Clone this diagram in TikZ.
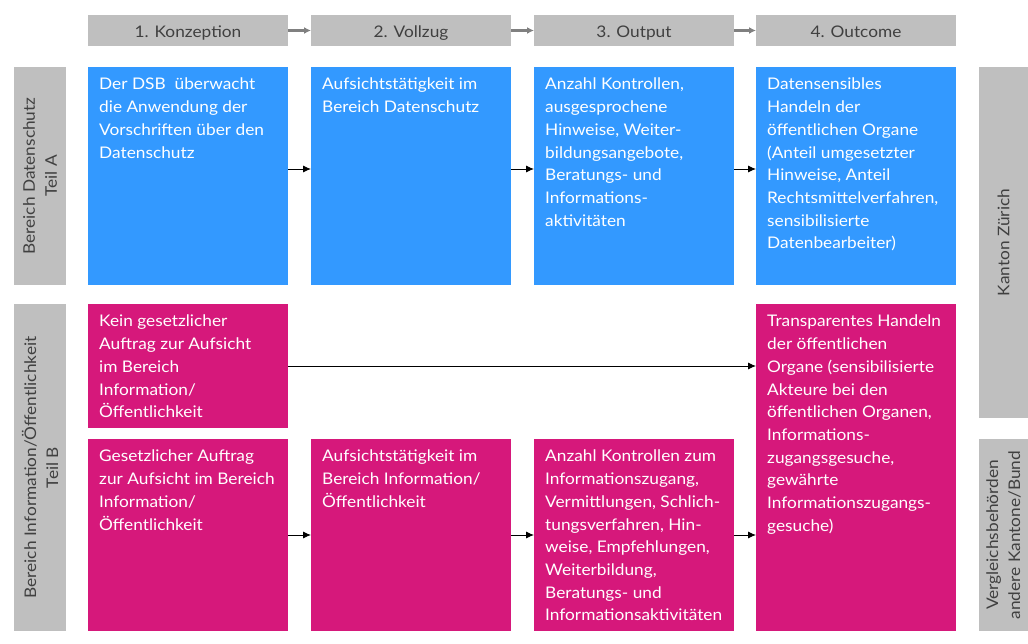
\documentclass[tikz,border=0pt]{standalone}
\usepackage{fontspec}
\setmainfont{Lato}[FakeStretch=1.08]
\usetikzlibrary{arrows.meta,positioning}
\definecolor{dsblau}{RGB}{51,153,255}
\definecolor{dsmagenta}{RGB}{214,24,123}
\definecolor{dsgrau}{RGB}{191,191,191}
\definecolor{dstext}{RGB}{64,64,64}
\definecolor{dspfeil}{RGB}{128,128,128}
\tikzset{
  kopf/.style={fill=dsgrau, minimum width=200pt, minimum height=31pt, inner sep=0pt, outer sep=0pt,
    text=dstext, text height=18pt, text depth=4pt, font=\fontsize{16}{18}\selectfont},
  feld/.style={minimum width=200pt, inner sep=0pt, outer sep=0pt, anchor=north west},
  blau/.style={feld, fill=dsblau},
  rot/.style={feld, fill=dsmagenta},
  seite/.style={fill=dsgrau, inner sep=0pt, outer sep=0pt, anchor=north west},
  seitentext/.style={rotate=90, align=center, text=dstext, font=\fontsize{16}{22}\selectfont},
  inhalt/.style={anchor=north west, text=white, align=left, inner xsep=11pt, inner ysep=11pt,
    font=\fontsize{16}{22.7}\selectfont},
  pfeil/.style={-{Latex[length=8pt,width=7pt]}, line width=0.9pt},
  kopfpfeil/.style={-{Latex[length=7pt,width=7pt]}, line width=2.5pt, draw=dspfeil}
}
\begin{document}
\begin{tikzpicture}[x=1pt,y=-1pt]
  \useasboundingbox (0,0) rectangle (1028,644);
  % Kopfzeile
  \node[kopf] (k1) at (188,30.5) {1. Konzeption};
  \node[kopf] (k2) at (411,30.5) {2. Vollzug};
  \node[kopf] (k3) at (634,30.5) {3. Output};
  \node[kopf] (k4) at (856,30.5) {4. Outcome};
  \draw[kopfpfeil] (k1) -- (k2);
  \draw[kopfpfeil] (k2) -- (k3);
  \draw[kopfpfeil] (k3) -- (k4);
  % Seitenbalken
  \node[seite, minimum width=52pt, minimum height=218pt] (tA) at (14,67) {};
  \node[seite, minimum width=52pt, minimum height=327pt] (tB) at (14,304) {};
  \node[seite, minimum width=49pt, minimum height=351pt] (zh) at (979,67) {};
  \node[seite, minimum width=49pt, minimum height=192pt] (vg) at (979,439) {};
  \node[seitentext] (tAtext) at (tA) {Bereich Datenschutz\\Teil A};
  \node[seitentext] (tBtext) at (tB) {Bereich Information/Öffentlichkeit\\Teil B};
  \node[seitentext] (zhtext) at (zh) {Kanton Zürich};
  \node[seitentext] (vgtext) at (vg) {Vergleichsbehörden\\andere Kantone/Bund};
  % Teil A
  \node[blau, minimum height=218pt] (a1) at (88,67) {};
  \node[blau, minimum height=218pt] (a2) at (311,67) {};
  \node[blau, minimum height=218pt] (a3) at (534,67) {};
  \node[blau, minimum height=218pt] (a4) at (756,67) {};
  \node[inhalt] (ta1) at (a1.north west) {Der DSB\ \ überwacht\\die Anwendung der\\Vorschriften über den\\Datenschutz};
  \node[inhalt] (ta2) at (a2.north west) {Aufsichtstätigkeit im\\Bereich Datenschutz};
  \node[inhalt] (ta3) at (a3.north west) {Anzahl Kontrollen,\\ausgesprochene\\Hinweise, Weiter-\\bildungsangebote,\\Beratungs- und\\Informations-\\aktivitäten};
  \node[inhalt] (ta4) at (a4.north west) {Datensensibles\\Handeln der\\öffentlichen Organe\\(Anteil umgesetzter\\Hinweise, Anteil\\Rechtsmittelverfahren,\\sensibilisierte\\Datenbearbeiter)};
  \draw[pfeil] ([yshift=7pt]a1.east) -- ([yshift=7pt]a2.west);
  \draw[pfeil] ([yshift=7pt]a2.east) -- ([yshift=7pt]a3.west);
  \draw[pfeil] ([yshift=7pt]a3.east) -- ([yshift=7pt]a4.west);
  % Teil B
  \node[rot, minimum height=124pt] (b1) at (88,304) {};
  \node[rot, minimum height=192pt] (b1u) at (88,439) {};
  \node[rot, minimum height=192pt] (b2) at (311,439) {};
  \node[rot, minimum height=192pt] (b3) at (534,439) {};
  \node[rot, minimum height=327pt] (b4) at (756,304) {};
  \node[inhalt] (tb1) at (b1.north west) {Kein gesetzlicher\\Auftrag zur Aufsicht\\im Bereich\\Information/\\Öffentlichkeit};
  \node[inhalt] (tb1u) at (b1u.north west) {Gesetzlicher Auftrag\\zur Aufsicht im Bereich\\Information/\\Öffentlichkeit};
  \node[inhalt] (tb2) at (b2.north west) {Aufsichtstätigkeit im\\Bereich Information/\\Öffentlichkeit};
  \node[inhalt] (tb3) at (b3.north west) {Anzahl Kontrollen zum\\Informationszugang,\\Vermittlungen, Schlich-\\tungsverfahren, Hin-\\weise, Empfehlungen,\\Weiterbildung,\\Beratungs- und\\Informationsaktivitäten};
  \node[inhalt] (tb4) at (b4.north west) {Transparentes Handeln\\der öffentlichen\\Organe (sensibilisierte\\Akteure bei den\\öffentlichen Organen,\\Informations-\\zugangsgesuche,\\gewährte\\Informationszugangs-\\gesuche)};
  \draw[pfeil] (b1.east) -- (b1.east -| b4.west);
  \draw[pfeil] (b1u) -- (b2);
  \draw[pfeil] (b2) -- (b3);
  \draw[pfeil] (b3.east) -- (b3.east -| b4.west);
\end{tikzpicture}
\end{document}
